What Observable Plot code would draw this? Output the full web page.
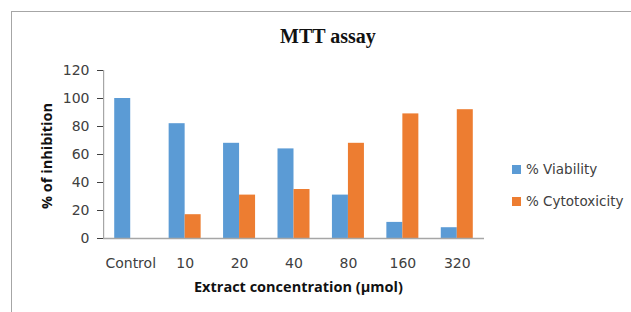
<!DOCTYPE html>
<html>
<head>
<meta charset="utf-8">
<script src="https://cdn.jsdelivr.net/npm/d3@7"></script>
<script src="https://cdn.jsdelivr.net/npm/@observablehq/plot@0.6"></script>
<style>
  html, body { margin: 0; padding: 0; background: #fff; }
  #wrap { position: relative; width: 631px; height: 312px; overflow: hidden; font-family: "DejaVu Sans", sans-serif; }
  #border { position: absolute; left: 11px; top: 11px; width: 700px; height: 400px; border: 1px solid #a6a6a6; box-sizing: border-box; }
  #title { position: absolute; left: 0; width: 656px; top: 25px; text-align: center; font-family: "Liberation Serif", "Times New Roman", serif; font-weight: bold; font-size: 20px; color: #111; }
  #chart { position: absolute; left: 0; top: 0; }
  #xtitle { position: absolute; left: 194px; width: 200px; top: 277px; text-align: center; white-space: nowrap; font-family: "Open Sans", sans-serif; font-weight: bold; font-size: 14.5px; color: #111; }
  #ytitle { position: absolute; left: 46px; top: 156px; transform: translate(-50%, -50%) rotate(-90deg); white-space: nowrap; font-family: "Open Sans", sans-serif; font-weight: bold; font-size: 14.5px; color: #111; }
  .leg { position: absolute; left: 512px; font-size: 13.5px; color: #404040; white-space: nowrap; }
  .leg span { display: inline-block; width: 9px; height: 9px; margin-right: 5px; vertical-align: 0px; }
</style>
</head>
<body>
<div id="wrap">
  <div id="border"></div>
  <div id="chart"></div>
  <div id="title">MTT assay</div>
  <div id="xtitle">Extract concentration (µmol)</div>
  <div id="ytitle">% of inhibition</div>
  <div class="leg" style="top:161px"><span id="sw0"></span>% Viability</div>
  <div class="leg" style="top:193px"><span id="sw1"></span>% Cytotoxicity</div>
</div>
<script>
const categories = ["Control", "10", "20", "40", "80", "160", "320"];
const viability = [100, 82, 68, 64, 31, 11.5, 7.7];
const cytotoxicity = [0, 17, 31, 35, 68, 89, 92];
const seriesNames = ["% Viability", "% Cytotoxicity"];
const colors = ["#5B9BD5", "#ED7D31"];
const yTicks = [0, 20, 40, 60, 80, 100, 120];

document.getElementById("sw0").style.background = colors[0];
document.getElementById("sw1").style.background = colors[1];

const W = 631, H = 312, mL = 103, mR = 147, mT = 70, mB = 74;
const step = (W - mL - mR) / categories.length;
const barW = 16;

const rowsV = categories.map((c, i) => ({cat: c, value: viability[i], series: seriesNames[0]}));
const rowsC = categories.map((c, i) => ({cat: c, value: cytotoxicity[i], series: seriesNames[1]})).filter(d => d.value > 0);

const chart = Plot.plot({
  width: W, height: H,
  marginLeft: mL, marginRight: mR, marginTop: mT, marginBottom: mB,
  style: {fontFamily: "'DejaVu Sans', sans-serif", fontSize: "14px", color: "#404040", background: "transparent"},
  x: {domain: categories, padding: 0, round: false, tickSize: 0, tickPadding: 20, label: null},
  y: {domain: [0, 120], ticks: yTicks, tickSize: 6, tickPadding: 8, label: null},
  color: {domain: seriesNames, range: colors},
  marks: [
    Plot.barY(rowsV, {x: "cat", y: "value", fill: "series", insetLeft: step / 2 - barW, insetRight: step / 2}),
    Plot.barY(rowsC, {x: "cat", y: "value", fill: "series", insetLeft: step / 2, insetRight: step / 2 - barW}),
    // y axis line: a thin bar at the left edge of the first band, spanning the y domain
    Plot.barY([{cat: categories[0], y1: yTicks[0], y2: yTicks[yTicks.length - 1]}], {x: "cat", y1: "y1", y2: "y2", fill: "#a6a6a6", insetLeft: 0, insetRight: step - 1.2}),
    Plot.ruleY([0], {stroke: "#a6a6a6", strokeWidth: 1.5})
  ]
});
document.getElementById("chart").appendChild(chart);
</script>
</body>
</html>
